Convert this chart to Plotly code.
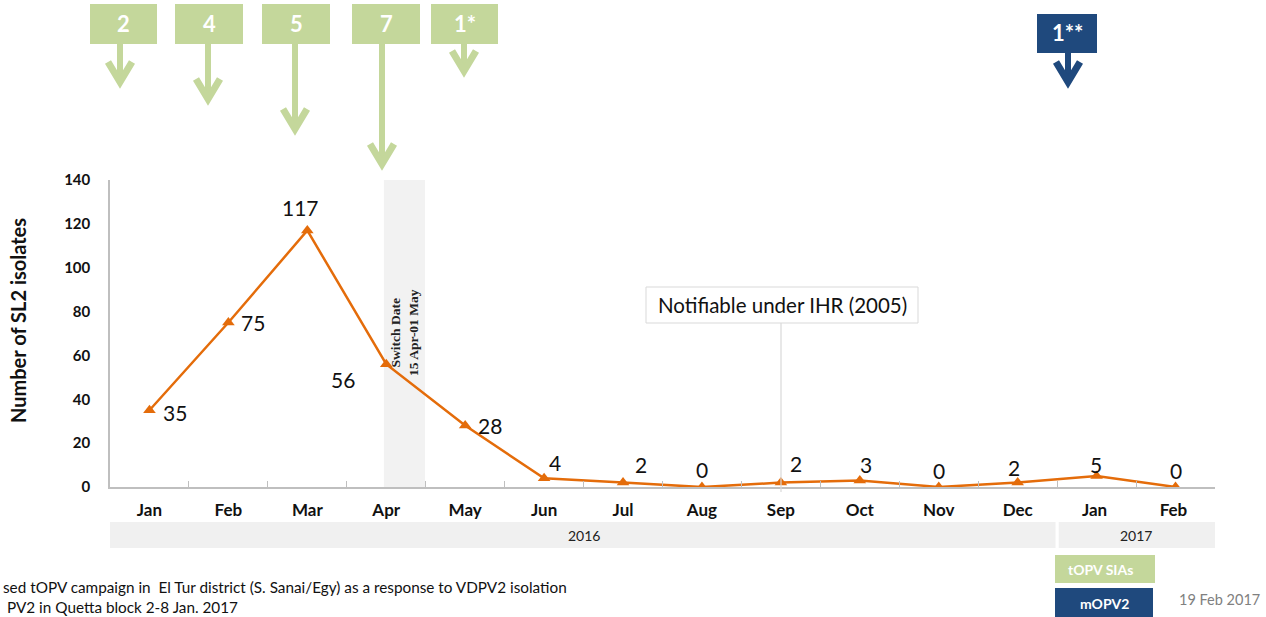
import plotly.graph_objects as go

months = ["Jan", "Feb", "Mar", "Apr", "May", "Jun", "Jul", "Aug", "Sep", "Oct", "Nov", "Dec", "Jan ", "Feb "]
isolates = [35, 75, 117, 56, 28, 4, 2, 0, 2, 3, 0, 2, 5, 0]
y_ticks = [0, 20, 40, 60, 80, 100, 120, 140]
years = ["2016", "2017"]
campaign_labels = ["2", "4", "5", "7", "1*"]
mopv_labels = ["1**"]
footnotes = ["sed tOPV campaign in  El Tur district (S. Sanai/Egy) as a response to VDPV2 isolation",
             "PV2 in Quetta block 2-8 Jan. 2017"]

# styling (pixel layout)
W, H = 1266, 617
L, R, T, B = 110, 1215, 180, 487
PW, PH = R - L, B - T


def px(xp):
    return (xp - L) / PW


def py(yp):
    return (B - yp) / PH


ORANGE = "#E46C0A"
GREEN = "#C4D79B"
BLUE = "#1F497D"
FONT = "Lato"

fig = go.Figure()

# switch date band
fig.add_shape(type="rect", xref="x", yref="paper", x0=2.97, x1=3.49, y0=0, y1=1,
              fillcolor="#F2F2F2", line_width=0, layer="below")

fig.add_trace(go.Scatter(
    x=list(range(len(months))), y=isolates, mode="lines+markers",
    line=dict(color=ORANGE, width=2.5),
    marker=dict(symbol="triangle-up", size=11, color=ORANGE),
    hoverinfo="skip", showlegend=False,
))

label_offsets = [(26, -2), (25, 0), (-7, 23), (-43, -15), (25, 0), (11, 16), (18, 18),
                 (0, 18), (15, 19), (6, 16), (0, 17), (-4, 15), (-1, 12), (0, 17)]
for i, (v, (dx, dy)) in enumerate(zip(isolates, label_offsets)):
    fig.add_annotation(x=i, y=v, xref="x", yref="y", text=str(v), showarrow=False,
                       xshift=dx, yshift=dy, xanchor="center", yanchor="middle",
                       font=dict(family=FONT, size=21, color="#111"))

shapes = []
annots = []

# Switch date text
annots.append(dict(x=px(404), y=py(333), xref="paper", yref="paper",
                   text="Switch Date<br>15 Apr-01 May", textangle=-90, showarrow=False,
                   font=dict(family="Liberation Serif", size=13.5, color="#222", weight="bold")))

# IHR callout
shapes.append(dict(type="line", xref="paper", yref="paper", x0=px(781), x1=px(781),
                   y0=py(323), y1=py(492), line=dict(color="#D9D9D9", width=1.2)))
shapes.append(dict(type="rect", xref="paper", yref="paper", x0=px(646), x1=px(918),
                   y0=py(323), y1=py(287), fillcolor="white", line=dict(color="#D9D9D9", width=1)))
annots.append(dict(x=px(782), y=py(305), xref="paper", yref="paper", text="Notifiable under IHR (2005)",
                   showarrow=False, font=dict(family=FONT, size=20.5, color="#111")))

# campaign boxes with arrows
box_specs = [(90, 157, 4, 44, 120, 83), (175, 243, 4, 44, 208, 100), (262, 330, 4, 44, 295, 130),
             (352, 420, 4, 44, 382, 165), (431, 498, 4, 44, 464, 72)]
blue_specs = [(1037, 1097, 14, 53, 1068, 83)]


def add_box(lbl, spec, color):
    x0, x1, y0, y1, ax, tip = spec
    shapes.append(dict(type="rect", xref="paper", yref="paper", x0=px(x0), x1=px(x1),
                       y0=py(y1), y1=py(y0), fillcolor=color, line_width=0))
    shapes.append(dict(type="line", xref="paper", yref="paper", x0=px(ax), x1=px(ax),
                       y0=py(y1), y1=py(tip - 4), line=dict(color=color, width=6)))
    path = "M {} {} L {} {} L {} {}".format(px(ax - 12), py(tip - 21), px(ax), py(tip - 1),
                                             px(ax + 12), py(tip - 21))
    shapes.append(dict(type="path", xref="paper", yref="paper", path=path,
                       line=dict(color=color, width=7)))
    annots.append(dict(x=px((x0 + x1) / 2), y=py((y0 + y1) / 2 - 1), xref="paper", yref="paper",
                       text=lbl, showarrow=False,
                       font=dict(family=FONT, size=22, color="white", weight="bold")))


for lbl, spec in zip(campaign_labels, box_specs):
    add_box(lbl, spec, GREEN)
for lbl, spec in zip(mopv_labels, blue_specs):
    add_box(lbl, spec, BLUE)

# year band
shapes.append(dict(type="rect", xref="x", yref="paper", x0=-0.5, x1=11.48, y0=py(548), y1=py(522),
                   fillcolor="#F0F0F0", line_width=0))
shapes.append(dict(type="rect", xref="x", yref="paper", x0=11.52, x1=13.5, y0=py(548), y1=py(522),
                   fillcolor="#F0F0F0", line_width=0))
annots.append(dict(x=5.5, y=py(535), xref="x", yref="paper", text=years[0], showarrow=False,
                   font=dict(family=FONT, size=14, color="#222")))
annots.append(dict(x=12.5, y=py(535), xref="x", yref="paper", text=years[1], showarrow=False,
                   font=dict(family=FONT, size=14, color="#222")))

# legend boxes
shapes.append(dict(type="rect", xref="paper", yref="paper", x0=px(1055), x1=px(1155),
                   y0=py(583), y1=py(555), fillcolor=GREEN, line_width=0))
annots.append(dict(x=px(1100), y=py(569), xref="paper", yref="paper", text="tOPV SIAs",
                   showarrow=False, font=dict(family=FONT, size=14, color="white", weight="bold")))
shapes.append(dict(type="rect", xref="paper", yref="paper", x0=px(1055), x1=px(1153),
                   y0=py(617), y1=py(588), fillcolor=BLUE, line_width=0))
annots.append(dict(x=px(1104), y=py(603), xref="paper", yref="paper", text="mOPV2",
                   showarrow=False, font=dict(family=FONT, size=14, color="white", weight="bold")))
annots.append(dict(x=px(1219), y=py(599), xref="paper", yref="paper", text="19 Feb 2017",
                   showarrow=False, font=dict(family=FONT, size=14.5, color="#808080")))

# footnotes (one block, left aligned)
annots.append(dict(x=px(1), y=py(597), xref="paper", yref="paper", xanchor="left", align="left",
                   text=footnotes[0] + "<br>&nbsp;" + footnotes[1],
                   showarrow=False, font=dict(family=FONT, size=15.3, color="#111")))

# y title
annots.append(dict(x=px(18), y=py(321), xref="paper", yref="paper", text="Number of SL2 isolates",
                   textangle=-90, showarrow=False,
                   font=dict(family=FONT, size=20, color="#111", weight="bold")))

for a in annots:
    a.setdefault("xanchor", "center")
    a.setdefault("yanchor", "middle")
    fig.add_annotation(**a)
for s in shapes:
    fig.add_shape(**s)

fig.update_layout(
    width=W, height=H, margin=dict(l=L, r=W - R, t=T, b=H - B),
    paper_bgcolor="white", plot_bgcolor="rgba(0,0,0,0)", showlegend=False,
    xaxis=dict(type="category", tickmode="array", tickvals=list(range(len(months))), ticktext=months,
               range=[-0.5, len(months) - 0.5], showgrid=False, zeroline=False,
               showline=True, linecolor="#BFBFBF", linewidth=1.5,
               ticks="inside", tickson="boundaries", ticklen=6, tickcolor="#BFBFBF",
               tickfont=dict(family=FONT, size=17, color="#111", weight="bold"), ticklabelstandoff=7),
    yaxis=dict(range=[0, 140], tickvals=y_ticks, showgrid=False, zeroline=False,
               showline=True, linecolor="#BFBFBF", linewidth=1.5, ticks="",
               tickfont=dict(family=FONT, size=15, color="#111", weight="bold"), ticklabelstandoff=15),
)

fig.write_html("out.html", config={"displayModeBar": False},
               post_script="document.body.style.margin='0px';")
